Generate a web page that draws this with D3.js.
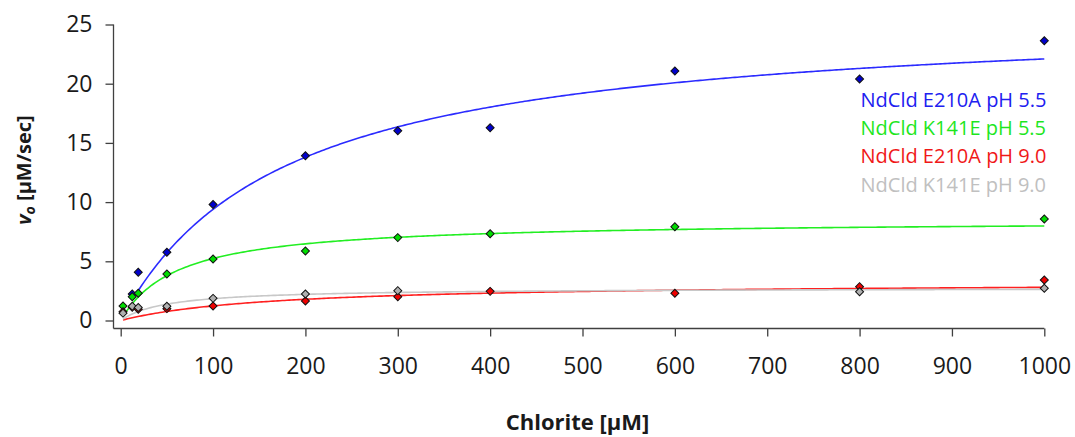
<!DOCTYPE html>
<html>
<head>
<meta charset="utf-8">
<script src="https://cdn.jsdelivr.net/npm/d3@7"></script>
<style>
  body { margin: 0; background: #fff; }
  #chart text { font-family: "Open Sans", sans-serif; }
</style>
</head>
<body>
<div id="chart"></div>
<script>
// series names and colours (legend order)
var seriesNames = ["NdCld E210A pH 5.5", "NdCld K141E pH 5.5", "NdCld E210A pH 9.0", "NdCld K141E pH 9.0"];

var blueX  = [12.5, 19, 50, 100, 200, 300, 400, 600, 800, 1000];
var blueY  = [2.24, 4.07, 5.76, 9.8, 13.92, 16.03, 16.28, 21.07, 20.4, 23.63];
var greenX = [2.5, 12.5, 19, 50, 100, 200, 300, 400, 600, 1000];
var greenY = [1.22, 2.0, 2.3, 3.93, 5.2, 5.87, 7.0, 7.33, 7.92, 8.57];
var redX   = [2.5, 12.5, 19, 50, 100, 200, 300, 400, 600, 800, 1000];
var redY   = [0.74, 1.11, 0.95, 1.0, 1.22, 1.65, 2.01, 2.46, 2.3, 2.86, 3.42];
var grayX  = [2.5, 12.5, 19, 50, 100, 200, 300, 800, 1000];
var grayY  = [0.62, 1.2, 1.1, 1.2, 1.87, 2.24, 2.52, 2.43, 2.72];

// Michaelis-Menten fit parameters for each series (Vmax, Km)
var fitVmax = [26.0, 8.48, 3.26, 2.76];
var fitKm   = [177, 62, 164, 50];

var xTicks = [0, 100, 200, 300, 400, 500, 600, 700, 800, 900, 1000];
var yTicks = [0, 5, 10, 15, 20, 25];

function KineticsChart() {
    var self = this;
    self.init();
}

KineticsChart.prototype.init = function () {
    var self = this;
    self.width = 1075;
    self.height = 437;

    self.lineColors  = ["#2b2bff", "#22ee22", "#ff2020", "#c8c8c8"];
    self.pointColors = ["#0000cc", "#00dd00", "#ee0000", "#b0b0b0"];
    self.textColors  = ["#2020f0", "#1ee61e", "#f01818", "#c0c0c0"];

    self.svg = d3.select("#chart").append("svg")
        .attr("width", self.width)
        .attr("height", self.height);

    self.x = d3.scaleLinear().domain([0, 1000]).range([120.7, 1044.3]);
    self.y = d3.scaleLinear().domain([0, 25]).range([320.5, 24.5]);
    self.axisY = 328.5;
    self.axisX = 113.5;

    self.series = [
        {xs: blueX, ys: blueY},
        {xs: greenX, ys: greenY},
        {xs: redX, ys: redY},
        {xs: grayX, ys: grayY}
    ];
    self.draw();
};

KineticsChart.prototype.draw = function () {
    var self = this;
    var svg = self.svg;

    // axes
    var xAxis = d3.axisBottom(self.x).tickValues(xTicks).tickFormat(d3.format("d"))
        .tickSize(8).tickSizeOuter(0).tickPadding(21);
    var yAxis = d3.axisLeft(self.y).tickValues(yTicks).tickFormat(d3.format("d"))
        .tickSize(8).tickSizeOuter(0).tickPadding(13);

    var gx = svg.append("g")
        .attr("transform", "translate(0," + self.axisY + ")")
        .call(xAxis);
    var gy = svg.append("g")
        .attr("transform", "translate(" + self.axisX + ",0)")
        .call(yAxis);

    [gx, gy].forEach(function (g) {
        g.select(".domain").remove();
        g.selectAll(".tick line").attr("stroke", "#404040").attr("stroke-width", 1.3);
        g.selectAll(".tick text").attr("fill", "#1a1a1a").style("font-size", "23px");
    });

    svg.append("line")
        .attr("x1", self.axisX).attr("x2", self.x(1000))
        .attr("y1", self.axisY).attr("y2", self.axisY)
        .attr("stroke", "#404040").attr("stroke-width", 1.3);
    svg.append("line")
        .attr("x1", self.axisX).attr("x2", self.axisX)
        .attr("y1", self.y(25)).attr("y2", self.axisY)
        .attr("stroke", "#404040").attr("stroke-width", 1.3);

    // fitted curves
    var line = d3.line()
        .x(function (d) { return self.x(d[0]); })
        .y(function (d) { return self.y(d[1]); });

    var curves = svg.append("g").attr("id", "curves");
    self.series.forEach(function (s, i) {
        var start = d3.min(s.xs);
        var pts = d3.range(start, 1000.01, 2.5).map(function (c) {
            return [c, fitVmax[i] * c / (fitKm[i] + c)];
        });
        curves.append("path")
            .attr("d", line(pts))
            .attr("fill", "none")
            .attr("stroke", self.lineColors[i])
            .attr("stroke-width", 1.6);
    });

    // data points (diamonds)
    var diamond = d3.symbol().type(d3.symbolSquare).size(32);
    var pointsG = svg.append("g").attr("id", "points");
    self.series.forEach(function (s, i) {
        var data = s.xs.map(function (c, j) { return [c, s.ys[j]]; });
        pointsG.append("g").selectAll("path")
            .data(data)
            .enter()
            .append("path")
            .attr("d", diamond)
            .attr("transform", function (d) {
                return "translate(" + self.x(d[0]) + "," + self.y(d[1]) + ") rotate(45)";
            })
            .attr("fill", self.pointColors[i])
            .attr("stroke", "#111")
            .attr("stroke-width", 1);
    });

    // legend (coloured text only)
    svg.append("g").attr("id", "legend").selectAll("text")
        .data(seriesNames)
        .enter()
        .append("text")
        .attr("x", 860.5)
        .attr("y", function (d, i) { return 106.7 + i * 28.35; })
        .attr("fill", function (d, i) { return self.textColors[i]; })
        .style("font-size", "20px")
        .text(function (d) { return d; });

    // axis titles
    svg.append("text")
        .attr("x", 577.5)
        .attr("y", 430)
        .attr("text-anchor", "middle")
        .attr("fill", "#1a1a1a")
        .style("font-size", "22px")
        .style("font-weight", "bold")
        .text("Chlorite [µM]");

    var yTitle = svg.append("text")
        .attr("transform", "translate(31,170) rotate(-90)")
        .attr("text-anchor", "middle")
        .attr("fill", "#1a1a1a")
        .style("font-size", "20px")
        .style("font-weight", "bold");
    yTitle.append("tspan").style("font-style", "italic").text("v");
    yTitle.append("tspan").style("font-style", "italic").style("font-size", "14px").attr("dy", 4).text("o");
    yTitle.append("tspan").attr("dy", -4).text(" [µM/sec]");
};

var chart = new KineticsChart();
</script>
</body>
</html>
